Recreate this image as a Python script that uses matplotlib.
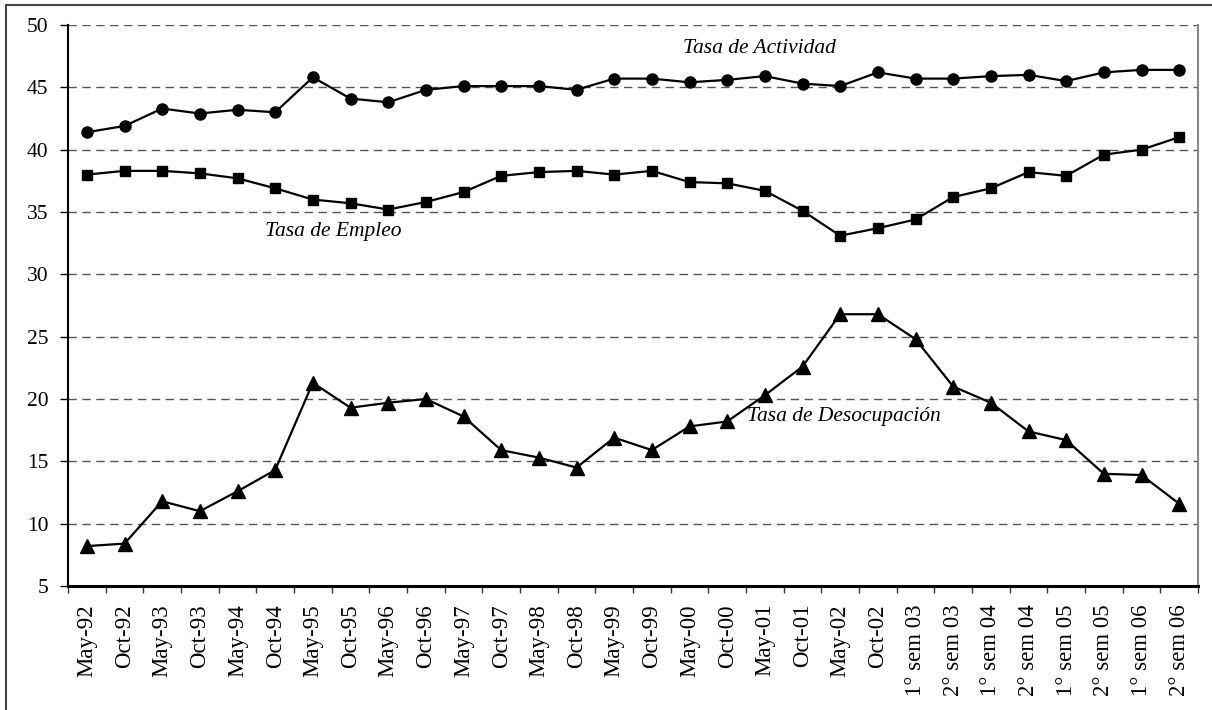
import matplotlib.pyplot as plt
import numpy as np
from matplotlib.patches import Rectangle

periods = [
    "May-92", "Oct-92", "May-93", "Oct-93", "May-94", "Oct-94", "May-95", "Oct-95",
    "May-96", "Oct-96", "May-97", "Oct-97", "May-98", "Oct-98", "May-99", "Oct-99",
    "May-00", "Oct-00", "May-01", "Oct-01", "May-02", "Oct-02",
    "1° sem 03", "2° sem 03", "1° sem 04", "2° sem 04",
    "1° sem 05", "2° sem 05", "1° sem 06", "2° sem 06",
]
actividad = [
    41.4, 41.9, 43.3, 42.9, 43.2, 43.0, 45.8, 44.1, 43.8, 44.8, 45.1, 45.1, 45.1, 44.8,
    45.7, 45.7, 45.4, 45.6, 45.9, 45.3, 45.1, 46.2, 45.7, 45.7, 45.9, 46.0, 45.5, 46.2,
    46.4, 46.4,
]
empleo = [
    38.0, 38.3, 38.3, 38.1, 37.7, 36.9, 36.0, 35.7, 35.2, 35.8, 36.6, 37.9, 38.2, 38.3,
    38.0, 38.3, 37.4, 37.3, 36.7, 35.1, 33.1, 33.7, 34.4, 36.2, 36.9, 38.2, 37.9, 39.6,
    40.0, 41.0,
]
desocupacion = [
    8.2, 8.4, 11.8, 11.0, 12.6, 14.3, 21.3, 19.3, 19.7, 20.0, 18.6, 15.9, 15.3, 14.5,
    16.9, 15.9, 17.8, 18.2, 20.3, 22.6, 26.8, 26.8, 24.8, 21.0, 19.7, 17.4, 16.7, 14.0,
    13.9, 11.6,
]
y_ticks = [5, 10, 15, 20, 25, 30, 35, 40, 45, 50]

plt.rcParams["font.family"] = ["Liberation Serif", "DejaVu Serif"]

W, H = 1212, 710
fig = plt.figure(figsize=(W / 100, H / 100), dpi=100)
ax = fig.add_axes([68 / W, 1 - 586 / H, (1198 - 68) / W, (586 - 25) / H])

x = np.arange(len(periods)) + 0.5
line_kw = dict(color="black", linewidth=1.6, markeredgecolor="black", markerfacecolor="black")
ax.plot(x, actividad, marker="o", markersize=8, **line_kw)
ax.plot(x, empleo, marker="s", markersize=7.5, **line_kw)
ax.plot(x, desocupacion, marker="^", markersize=10, **line_kw)

ax.set_xlim(0, len(periods))
ax.set_ylim(5, 50)
ax.set_yticks(y_ticks)
ax.set_yticklabels([str(v) for v in y_ticks], fontsize=15.5)
ax.yaxis.grid(True, color="#555555", linestyle=(0, (6, 4)), linewidth=1.0)
ax.set_axisbelow(True)

# ticks sit between categories, labels sit on the categories
ax.set_xticks(range(len(periods) + 1))
ax.set_xticklabels([])
ax.set_xticks(x, periods, minor=True, rotation=90, fontsize=16.5)
ax.tick_params(axis="x", which="major", length=5, width=1, color="#333333", direction="out")
ax.tick_params(axis="x", which="minor", length=0, pad=13)
ax.tick_params(axis="y", length=6, width=1, direction="out", pad=8)

ax.spines["left"].set_linewidth(1.5)
ax.spines["bottom"].set_linewidth(2.2)
ax.spines["top"].set_visible(False)
ax.spines["right"].set_color("#888888")
ax.spines["right"].set_linewidth(1.5)

txt = dict(fontsize=15.5, style="italic", ha="center", va="center")
ax.text(18.35, 48.1, "Tasa de Actividad", **txt)
ax.text(7.05, 33.4, "Tasa de Empleo", **txt)
ax.text(20.6, 18.6, "Tasa de Desocupación", **txt)

# outer frame of the chart object, cut off at right and bottom
fig.patches.append(Rectangle((6 / W, -0.1), 1.2, 1 - 5 / H + 0.1, transform=fig.transFigure,
                             fill=False, edgecolor="#444444", linewidth=1.5))

fig.savefig("out.png", dpi=100)
